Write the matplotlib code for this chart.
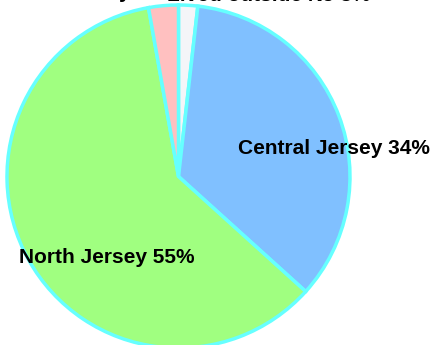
import matplotlib
matplotlib.use("Agg")
import matplotlib.pyplot as plt
from matplotlib import font_manager

names = {f.name for f in font_manager.fontManager.ttflist}
fam = 'Liberation Sans Narrow' if 'Liberation Sans Narrow' in names else 'Liberation Sans'

# Slices drawn clockwise from 12 o'clock
categories = ["Outside NJ", "Central Jersey", "North Jersey", "South Jersey"]
values = [1.8, 34.9, 60.5, 2.8]
labels = ["Lived outside NJ 3%", "Central Jersey 34%", "North Jersey 55%", "South Jersey 3%"]
colors = ["#F4F5F8", "#80C0FF", "#A0FF80", "#FFC0C0"]

fig = plt.figure(figsize=(4.3, 3.45), dpi=100)
ax = fig.add_axes([0, 0, 1, 1])
ax.pie(values, colors=colors, startangle=90, counterclock=False,
       wedgeprops=dict(edgecolor="#66FFFF", linewidth=2.5), radius=1.0)
ax.set_xlim(-1.0408, 1.4665)
ax.set_ylim(-0.9825, 1.0292)
ax.set_aspect('auto')
ax.axis('off')

pos = [(1.117, 1.022, 'baseline', 'right'), (0.904, 0.166, 'center', 'center'),
       (-0.417, -0.475, 'center', 'center'), (-0.56, 1.038, 'baseline', 'center')]
for lab, (x, y, va, ha) in zip(labels, pos):
    ax.text(x, y, lab, ha=ha, va=va, fontsize=15, fontweight='bold',
            family=[fam, 'DejaVu Sans'], color='black', clip_on=False)

fig.savefig("out.png", dpi=100)
